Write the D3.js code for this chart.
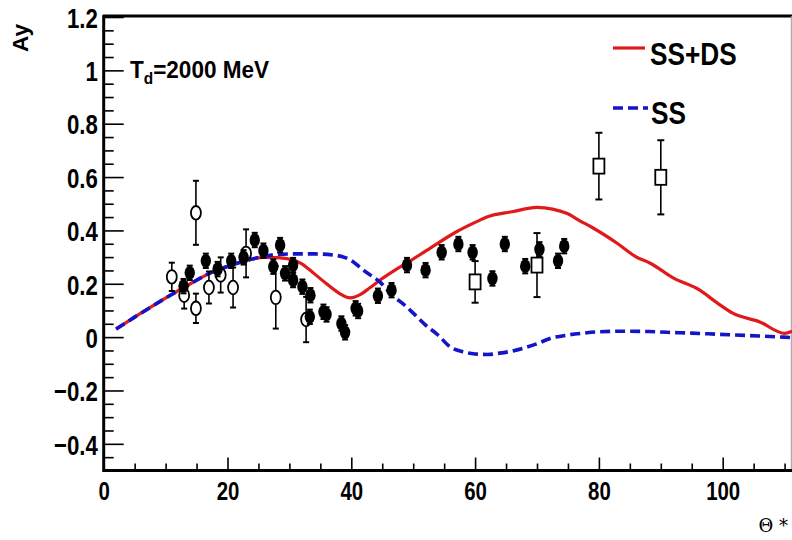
<!DOCTYPE html>
<html><head><meta charset="utf-8">
<script src="https://cdn.jsdelivr.net/npm/d3@7"></script>
<style>
html,body{margin:0;padding:0;background:#fff;}
svg{display:block;}
.lab{font-family:"Liberation Sans",Arial,Helvetica,sans-serif;font-weight:bold;}
</style></head>
<body><svg id="c" width="792" height="540"></svg>
<script>
// ---- data ----
const ssdsX = [2,5,8,11,14,17,20,23,26,28,30.5,32,34,36,38,39.8,41.5,43,44.6,47,49,52.7,57,60,62,66,70,72.5,74.8,77,79,83,86,88.3,92,96.3,99,101.7,106,110,111.2];
const ssdsY = [0.03,0.075,0.118,0.16,0.2,0.238,0.265,0.287,0.299,0.298,0.29,0.275,0.238,0.2,0.165,0.147,0.16,0.185,0.213,0.25,0.278,0.333,0.395,0.43,0.451,0.47,0.486,0.48,0.464,0.435,0.41,0.351,0.301,0.277,0.222,0.176,0.13,0.089,0.057,0.014,0.022];
const ssX = [2,5,8,11,14,17,20,23,26,28,30.6,34,37,39.8,42,44.6,46.5,48.9,50,52,54,56,58,60,62,64,66,68,70,72,75,77.5,80,84,88,91,95,99,104,109.8,111.2];
const ssY = [0.03,0.075,0.118,0.16,0.2,0.238,0.265,0.287,0.303,0.31,0.312,0.312,0.308,0.29,0.25,0.207,0.16,0.114,0.09,0.045,0.008,-0.037,-0.055,-0.063,-0.065,-0.06,-0.052,-0.04,-0.025,-0.006,0.008,0.015,0.02,0.022,0.021,0.018,0.015,0.011,0.006,0.0,-0.002];
// filled circles
const fullX = [12.9,13.9,16.5,18.4,20.6,22.6,24.4,25.8,27.4,28.5,29.3,30.6,30.6,32.1,33.4,33.3,35.5,36.0,38.4,39.0,40.7,41.1,44.3,46.5,49.0,52.0,54.6,57.3,59.6,62.8,64.8,68.1,70.4,73.4,74.4];
const fullY = [0.191,0.241,0.286,0.255,0.286,0.299,0.364,0.324,0.264,0.345,0.239,0.27,0.214,0.189,0.157,0.076,0.095,0.085,0.051,0.018,0.108,0.098,0.155,0.176,0.27,0.251,0.318,0.349,0.318,0.22,0.349,0.266,0.329,0.286,0.341];
const fullErr = 0.027;
// open circles
const openX = [11.0,13.0,14.9,14.9,17.0,18.9,20.9,23.0,27.8,32.7];
const openY = [0.226,0.157,0.466,0.108,0.186,0.233,0.186,0.314,0.149,0.066];
const openE = [0.053,0.05,0.12,0.055,0.06,0.066,0.075,0.09,0.117,0.085];
// open squares
const sqX = [60,70,80,90];
const sqY = [0.207,0.27,0.641,0.599];
const sqE = [0.078,0.12,0.125,0.139];
const xMajor = [0,20,40,60,80,100];
const yMajor = [-0.4,-0.2,0,0.2,0.4,0.6,0.8,1,1.2];
const legendLabels = ["SS+DS","SS"];

// ---- chart ----
const svg = d3.select("#c");
const x = d3.scaleLinear().domain([0,111.1]).range([103.7,791.4]);
const y = d3.scaleLinear().domain([-0.5,1.2]).range([470.5,17]);

// frame: top and right
svg.append("line").attr("x1",103).attr("x2",792).attr("y1",16).attr("y2",16).attr("stroke","#000").attr("stroke-width",3);
svg.append("line").attr("x1",791.3).attr("x2",791.3).attr("y1",16).attr("y2",470.5).attr("stroke","#999").attr("stroke-width",1);

// lines
const line = d3.line().x(d=>x(d[0])).y(d=>y(d[1])).curve(d3.curveMonotoneX);
const ssds = ssdsX.map((v,i)=>[v,ssdsY[i]]);
const ss = ssX.map((v,i)=>[v,ssY[i]]);
svg.append("path").attr("d",line(ssds)).attr("fill","none").attr("stroke","#e01a1a").attr("stroke-width",3.2);
svg.append("path").attr("d",line(ss)).attr("fill","none").attr("stroke","#1414c8").attr("stroke-width",3.6).attr("stroke-dasharray","10,5");

// error bars helper
function errBar(g, px, py, e, cap) {
  g.append("line").attr("x1",x(px)).attr("x2",x(px)).attr("y1",y(py-e)).attr("y2",y(py+e)).attr("stroke","#000").attr("stroke-width",1.6);
  [py-e,py+e].forEach(v=>g.append("line").attr("x1",x(px)-cap).attr("x2",x(px)+cap).attr("y1",y(v)).attr("y2",y(v)).attr("stroke","#000").attr("stroke-width",2));
}
const gm = svg.append("g");
openX.forEach((v,i)=>{
  errBar(gm, v, openY[i], openE[i], 3);
  gm.append("ellipse").attr("cx",x(v)).attr("cy",y(openY[i])).attr("rx",5).attr("ry",6.8).attr("fill","#fff").attr("stroke","#000").attr("stroke-width",1.8);
});
sqX.forEach((v,i)=>{
  errBar(gm, v, sqY[i], sqE[i], 3.5);
  gm.append("rect").attr("x",x(v)-5.5).attr("y",y(sqY[i])-7.5).attr("width",11).attr("height",15).attr("fill","#fff").attr("stroke","#000").attr("stroke-width",1.8);
});
fullX.forEach((v,i)=>{
  errBar(gm, v, fullY[i], fullErr, 3);
  gm.append("ellipse").attr("cx",x(v)).attr("cy",y(fullY[i])).attr("rx",5.2).attr("ry",6.9).attr("fill","#000");
});

// axes
const xMinor = d3.range(0,111,5).filter(v=>v%20!==0);
const yMinor = d3.range(-0.5,1.2001,0.05).map(v=>+v.toFixed(2)).filter(v=>Math.abs(Math.round(v*5)-v*5)>1e-6);
const gx = svg.append("g").attr("transform","translate(0,470.5)");
gx.call(d3.axisBottom(x).tickValues(xMajor).tickSize(-13).tickPadding(11).tickFormat(d3.format("d")));
gx.append("g").call(d3.axisBottom(x).tickValues(xMinor).tickSize(-7).tickFormat(""));
gx.selectAll(".domain").remove();
gx.selectAll("line").attr("stroke","#000").attr("stroke-width",1.6);
gx.selectAll("text").attr("class","lab").attr("font-size",25.5).attr("fill","#000").attr("dy","0.72em").attr("transform","scale(0.8,1)");
svg.append("line").attr("x1",103).attr("x2",792).attr("y1",470.5).attr("y2",470.5).attr("stroke","#000").attr("stroke-width",3);

const gy = svg.append("g").attr("transform","translate(103.7,0)");
gy.call(d3.axisLeft(y).tickValues(yMajor).tickSize(-20).tickPadding(7.5).tickFormat(d=>d3.format("")(+d.toFixed(1))));
gy.append("g").call(d3.axisLeft(y).tickValues(yMinor).tickSize(-10).tickFormat(""));
gy.selectAll(".domain").remove();
gy.selectAll("line").attr("stroke","#000").attr("stroke-width",1.6);
gy.selectAll("text").attr("class","lab").attr("font-size",28.5).attr("fill","#000").attr("dy","0.36em").attr("transform","scale(0.78,1)");
svg.append("line").attr("x1",103.7).attr("x2",103.7).attr("y1",15).attr("y2",472).attr("stroke","#000").attr("stroke-width",3);

// axis titles
svg.append("text").attr("class","lab").attr("transform","translate(28,38) rotate(-90)").attr("text-anchor","middle").attr("font-size",22.5).text("Ay");
svg.append("text").attr("x",788).attr("y",532).attr("text-anchor","end").attr("font-family","'DejaVu Serif','Liberation Serif',serif").attr("font-size",18).text("Θ *");

// annotation
const ann = svg.append("text").attr("class","lab").attr("transform","translate(130,78) scale(0.96,1)").attr("font-size",23.5);
ann.append("tspan").text("T");
ann.append("tspan").attr("font-size",16).attr("dy",6).text("d");
ann.append("tspan").attr("dy",-6).text("=2000 MeV");

// legend
svg.append("line").attr("x1",613).attr("x2",645).attr("y1",48).attr("y2",48).attr("stroke","#e01a1a").attr("stroke-width",3.2);
svg.append("line").attr("x1",613).attr("x2",648).attr("y1",108).attr("y2",108).attr("stroke","#1414c8").attr("stroke-width",3.6).attr("stroke-dasharray","10,5");
svg.append("text").attr("class","lab").attr("transform","translate(650,65) scale(0.86,1)").attr("font-size",30.5).text(legendLabels[0]);
svg.append("text").attr("class","lab").attr("transform","translate(651,124) scale(0.86,1)").attr("font-size",30.5).text(legendLabels[1]);
</script></body></html>
